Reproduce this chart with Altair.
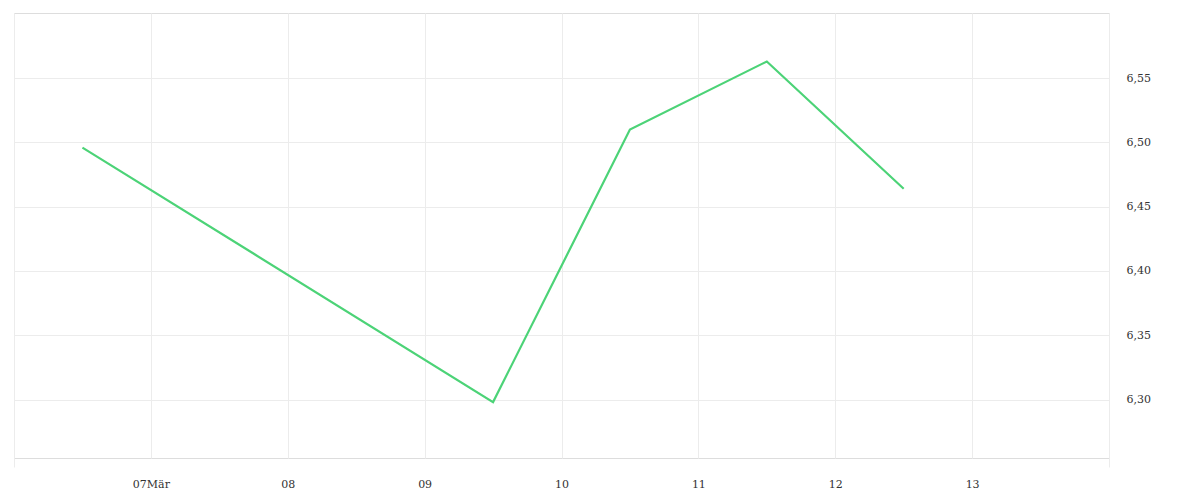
import altair as alt
import pandas as pd

dates = ["2020-03-06T12:00:00Z", "2020-03-09T12:00:00Z", "2020-03-10T12:00:00Z",
         "2020-03-11T12:00:00Z", "2020-03-12T12:00:00Z"]
values = [6.496, 6.298, 6.510, 6.563, 6.464]

tick_days = [6, 7, 8, 9, 10, 11, 12, 13, 14]
tick_labels = ["", "07Mär", "08", "09", "10", "11", "12", "13", ""]
y_ticks = [6.30, 6.35, 6.40, 6.45, 6.50, 6.55]
y_domain = [6.2545, 6.6007]

df = pd.DataFrame({"t": dates, "v": values})

label_map = "{" + ",".join(f"'{d}':'{l}'" for d, l in zip(tick_days, tick_labels)) + "}"
x_label_expr = f"{label_map}[utcdate(datum.value)]"
edge_test = f"utcdate(datum.value)=={tick_days[0]} || utcdate(datum.value)=={tick_days[-1]}"

grid = "#ececec"

chart = alt.Chart(df).mark_line(color="#4cd377", strokeWidth=2.2).encode(
    x=alt.X("t:T",
            scale=alt.Scale(type="utc",
                            domain=[alt.DateTime(year=2020, month=3, date=tick_days[0], utc=True),
                                    alt.DateTime(year=2020, month=3, date=tick_days[-1], utc=True)]),
            axis=alt.Axis(values=[alt.DateTime(year=2020, month=3, date=d, utc=True) for d in tick_days],
                          labelExpr=x_label_expr, title=None, domain=False,
                          grid=True, gridColor=grid, gridWidth=1,
                          ticks=True, tickSize=9,
                          tickColor={"condition": {"test": edge_test, "value": grid}, "value": "transparent"},
                          labelFont="DejaVu Serif", labelFontSize=11, labelColor="#333333",
                          labelPadding=11, labelFlush=False)),
    y=alt.Y("v:Q", scale=alt.Scale(domain=y_domain, zero=False, nice=False),
            axis=alt.Axis(orient="right", values=y_ticks, title=None, domain=False, ticks=False,
                          grid=True, gridColor=grid, gridWidth=1,
                          labelExpr="replace(format(datum.value, '.2f'), '.', ',')",
                          labelFont="DejaVu Serif", labelFontSize=11, labelColor="#333333",
                          labelPadding=17)),
).properties(
    width=1095, height=445,
    padding={"left": 5, "top": 5, "right": 5, "bottom": 5},
).configure_view(stroke=grid, strokeWidth=1).configure(background="white")

chart.save("out.html", embed_options={"renderer": "svg", "actions": False})
